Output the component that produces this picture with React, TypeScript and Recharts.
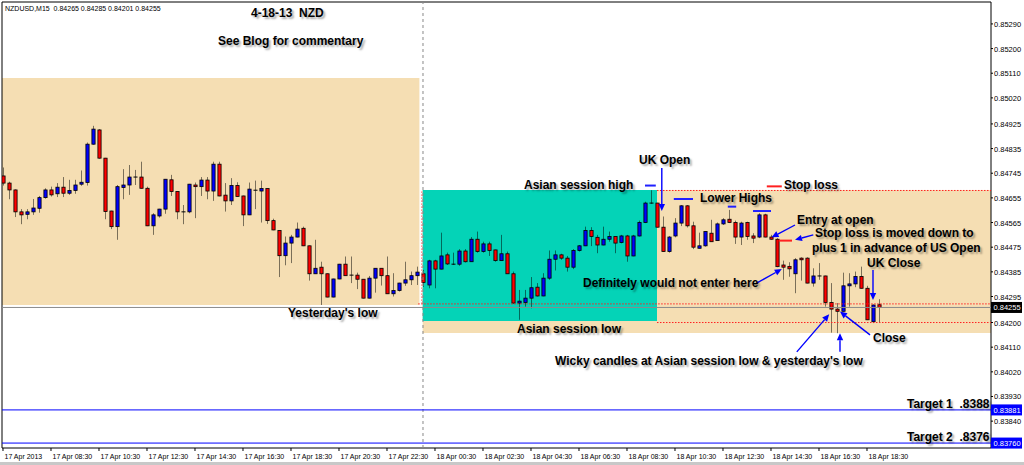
import React from 'react'
import { ComposedChart, Bar, XAxis, YAxis, ReferenceArea, ReferenceLine } from 'recharts'

// NZDUSD M15, 17 Apr 06:30 -> 18 Apr 19:00, one entry per bar
const opens = [
  0.84735, 0.84709, 0.84684, 0.84604, 0.84595, 0.84604, 0.84617, 0.84656, 0.84684, 0.8467,
  0.84694, 0.84672, 0.84682, 0.84705, 0.84711, 0.84851, 0.84903, 0.848, 0.84607, 0.8455,
  0.84693, 0.84702, 0.84731, 0.84731, 0.8469, 0.84553, 0.84589, 0.84614, 0.84721, 0.84678,
  0.84604, 0.84604, 0.84702, 0.84696, 0.8472, 0.8468, 0.84778, 0.84665, 0.84644, 0.847,
  0.84662, 0.84593, 0.84683, 0.8468, 0.84689, 0.84572, 0.84536, 0.84444, 0.8449, 0.84512,
  0.84544, 0.8448, 0.84378, 0.84402, 0.84378, 0.84293, 0.84359, 0.84413, 0.84373, 0.84373,
  0.84358, 0.84289, 0.84362, 0.84398, 0.84371, 0.84305, 0.84317, 0.84344, 0.84356, 0.84371,
  0.84378, 0.84337, 0.84425, 0.84395, 0.84447, 0.84413, 0.84413, 0.84461, 0.84422, 0.84504,
  0.84459, 0.84487, 0.84465, 0.84426, 0.84451, 0.84378, 0.84271, 0.84273, 0.84289, 0.84329,
  0.84297, 0.84362, 0.84431, 0.84447, 0.84435, 0.84402, 0.84463, 0.8448, 0.84536, 0.84511,
  0.84483, 0.84504, 0.84514, 0.84492, 0.84516, 0.84443, 0.84516, 0.84565, 0.84636, 0.84636,
  0.84548, 0.84459, 0.84516, 0.84563, 0.84626, 0.84553, 0.84471, 0.8448, 0.84526, 0.84499,
  0.8456, 0.84577, 0.84565, 0.84512, 0.84565, 0.84516, 0.84512, 0.84593, 0.84512, 0.84504,
  0.8441, 0.84405, 0.84378, 0.84435, 0.84435, 0.84344, 0.8437, 0.8437, 0.84273, 0.84249,
  0.84241, 0.84334, 0.84341, 0.84368, 0.84325, 0.84203, 0.84265,
]
const highs = [
  0.84766, 0.84714, 0.84686, 0.84614, 0.84614, 0.84651, 0.84662, 0.8469, 0.84696, 0.84709,
  0.84731, 0.84721, 0.84721, 0.84755, 0.84857, 0.84918, 0.84906, 0.84801, 0.84608, 0.84702,
  0.8476, 0.84775, 0.84757, 0.84787, 0.84696, 0.84599, 0.84615, 0.84724, 0.84739, 0.84679,
  0.84629, 0.84706, 0.84711, 0.84731, 0.84731, 0.84787, 0.84787, 0.84709, 0.84727, 0.84712,
  0.84663, 0.84711, 0.84718, 0.84718, 0.8469, 0.84579, 0.84537, 0.84514, 0.8452, 0.84565,
  0.8455, 0.84481, 0.84502, 0.84422, 0.84379, 0.8436, 0.84414, 0.84441, 0.84441, 0.84382,
  0.84359, 0.8437, 0.84399, 0.84399, 0.84441, 0.8438, 0.84345, 0.84422, 0.84386, 0.84404,
  0.84392, 0.84429, 0.84429, 0.84528, 0.84455, 0.84455, 0.84468, 0.84468, 0.84512, 0.84532,
  0.84495, 0.84495, 0.84466, 0.8452, 0.84459, 0.84386, 0.84319, 0.84319, 0.84366, 0.84344,
  0.8438, 0.84463, 0.84463, 0.84451, 0.84443, 0.84468, 0.84483, 0.8455, 0.84548, 0.8452,
  0.8455, 0.84532, 0.84515, 0.8452, 0.8452, 0.8452, 0.84572, 0.84641, 0.84683, 0.84637,
  0.84587, 0.84516, 0.84581, 0.84629, 0.84629, 0.84568, 0.84528, 0.84534, 0.84575, 0.84565,
  0.84581, 0.84611, 0.84572, 0.84568, 0.84568, 0.84526, 0.84599, 0.84597, 0.8452, 0.84508,
  0.84426, 0.8442, 0.84435, 0.84438, 0.84438, 0.84398, 0.84417, 0.84371, 0.84344, 0.84271,
  0.84382, 0.8438, 0.84386, 0.84404, 0.84334, 0.84265, 0.84285,
]
const lows = [
  0.847, 0.8465, 0.84585, 0.84559, 0.84577, 0.84593, 0.84601, 0.84652, 0.8466, 0.84658,
  0.84658, 0.84666, 0.8467, 0.84699, 0.847, 0.84849, 0.84798, 0.84577, 0.84541, 0.84502,
  0.8465, 0.84666, 0.84702, 0.84689, 0.84552, 0.8452, 0.84583, 0.84597, 0.84662, 0.84577,
  0.84559, 0.84599, 0.84581, 0.84662, 0.8465, 0.84644, 0.84661, 0.84605, 0.84629, 0.84659,
  0.84552, 0.84592, 0.84614, 0.84565, 0.8456, 0.84537, 0.84366, 0.84409, 0.84417, 0.84511,
  0.84479, 0.84353, 0.84377, 0.84264, 0.84292, 0.84292, 0.84358, 0.8437, 0.84344, 0.84322,
  0.84288, 0.84288, 0.84309, 0.84335, 0.84304, 0.84295, 0.84313, 0.84334, 0.84337, 0.84337,
  0.8433, 0.84325, 0.84325, 0.84394, 0.8441, 0.8441, 0.84407, 0.84419, 0.84421, 0.84455,
  0.84455, 0.84443, 0.84422, 0.84425, 0.84377, 0.8427, 0.8421, 0.84258, 0.84252, 0.84295,
  0.84296, 0.84356, 0.8439, 0.84429, 0.84386, 0.84395, 0.84459, 0.84479, 0.84479, 0.84453,
  0.84482, 0.84495, 0.84453, 0.84489, 0.84422, 0.84442, 0.84514, 0.84563, 0.84633, 0.84547,
  0.84458, 0.84455, 0.84511, 0.84552, 0.84547, 0.84468, 0.8447, 0.84477, 0.84494, 0.84498,
  0.84556, 0.84563, 0.84487, 0.84483, 0.84502, 0.8449, 0.84508, 0.84511, 0.84502, 0.84402,
  0.84356, 0.84367, 0.84307, 0.84353, 0.84343, 0.84331, 0.84356, 0.84258, 0.84163, 0.84161,
  0.8424, 0.84258, 0.84329, 0.84324, 0.84209, 0.84198, 0.84201,
]
const closes = [
  0.84709, 0.84684, 0.84604, 0.84593, 0.84604, 0.84618, 0.84656, 0.84684, 0.84666, 0.84694,
  0.84672, 0.84682, 0.84702, 0.84712, 0.84851, 0.84906, 0.848, 0.84605, 0.8455, 0.84696,
  0.84702, 0.84731, 0.84732, 0.8469, 0.84553, 0.84593, 0.84614, 0.84723, 0.84678, 0.84604,
  0.84604, 0.84705, 0.84696, 0.8472, 0.8468, 0.84778, 0.84662, 0.84644, 0.847, 0.8466,
  0.84593, 0.84687, 0.84684, 0.84689, 0.84572, 0.84538, 0.84444, 0.8449, 0.84512, 0.84541,
  0.8448, 0.84378, 0.84398, 0.84378, 0.84293, 0.84359, 0.84413, 0.84371, 0.84372, 0.84358,
  0.84289, 0.84362, 0.84398, 0.84371, 0.84305, 0.84317, 0.84344, 0.84356, 0.84371, 0.84384,
  0.84346, 0.84425, 0.84395, 0.84443, 0.84414, 0.84413, 0.84461, 0.84422, 0.84504, 0.84459,
  0.84487, 0.84463, 0.84426, 0.84451, 0.84378, 0.84271, 0.84278, 0.84289, 0.84327, 0.84297,
  0.84362, 0.84431, 0.84447, 0.84435, 0.84402, 0.84463, 0.8448, 0.84536, 0.84514, 0.84483,
  0.84504, 0.84514, 0.8449, 0.84516, 0.84443, 0.84516, 0.84565, 0.84636, 0.84635, 0.84548,
  0.84459, 0.84512, 0.84563, 0.84626, 0.84553, 0.84475, 0.8448, 0.84532, 0.84495, 0.8456,
  0.84575, 0.84565, 0.84512, 0.84563, 0.84514, 0.84508, 0.84593, 0.84512, 0.84504, 0.84404,
  0.84402, 0.84396, 0.84429, 0.84429, 0.84344, 0.8437, 0.84371, 0.84273, 0.84249, 0.84241,
  0.84334, 0.84341, 0.84368, 0.84325, 0.8421, 0.84264, 0.84255,
]

const dateTicks = [0, 8, 16, 24, 32, 40, 48, 56, 64, 72, 80, 88, 96, 104, 112, 120, 128, 136, 144]
const dateLabels = [
  '17 Apr 2013', '17 Apr 08:30', '17 Apr 10:30', '17 Apr 12:30', '17 Apr 14:30', '17 Apr 16:30',
  '17 Apr 18:30', '17 Apr 20:30', '17 Apr 22:30', '18 Apr 00:30', '18 Apr 02:30', '18 Apr 04:30',
  '18 Apr 06:30', '18 Apr 08:30', '18 Apr 10:30', '18 Apr 12:30', '18 Apr 14:30', '18 Apr 16:30',
  '18 Apr 18:30',
]
const priceTicks = [
  0.8529, 0.852, 0.8511, 0.8502, 0.84925, 0.84835, 0.84745, 0.84655, 0.84565, 0.84475,
  0.84385, 0.84295, 0.84255, 0.842, 0.8411, 0.8402, 0.8393, 0.83881, 0.8384, 0.8376,
]

// levels
const bid = 0.84255
const target1 = 0.83881
const target2 = 0.8376
const prevBox = [0.84264, 0.85093]
const asianBox = [0.84206, 0.84684]
const ukBox = [0.84162, 0.84684]
const stopLoss = 0.84682
const yesterdayLow = 0.84268
const asianLowLine = 0.842
const dayStart = 70

// short marks [i1, p1, i2, p2]
const blueMarks = [
  [107, 0.847, 108.8, 0.847],
  [111.8, 0.84651, 115, 0.84651],
  [120.8, 0.84623, 122.2, 0.84623],
  [125, 0.84607, 128, 0.84607],
]
const redMarks = [
  [127.3, 0.84697, 129.8, 0.84697],
  [129.3, 0.84499, 131.5, 0.84499],
]
const arrows = [
  [109.8, 0.84764, 109.8, 0.84607],
  [132, 0.84556, 128.1, 0.84511],
  [135.05, 0.8452, 132, 0.84502],
  [125.6, 0.84344, 129.8, 0.84395],
  [145, 0.84392, 145, 0.84282],
  [144.5, 0.84155, 139.5, 0.8424],
  [132.3, 0.84093, 137.7, 0.8423],
  [139.5, 0.84093, 139.5, 0.84161],
]

const X_MIN = -1 / 6
const X_MAX = 164.667
const Y_MIN = 0.83742
const Y_MAX = 0.8537

const data = opens.map((open, i) => ({
  idx: i,
  open,
  high: highs[i],
  low: lows[i],
  close: closes[i],
  range: [lows[i], highs[i]],
}))

function Candle(props: any) {
  const { x, y, width, height, payload } = props
  if (!payload) return null
  const { open, close, high, low } = payload
  const top = Math.min(y, y + height)
  const span = Math.abs(height)
  const py = (v: number) => top + (span * (high - v)) / (high - low || 1)
  const cx = Math.round(x + width / 2) + 0.5
  const yo = py(open)
  const yc = py(close)
  const bodyH = Math.abs(yc - yo)
  return (
    <g>
      <line x1={cx} x2={cx} y1={top} y2={top + span} stroke="#000" strokeOpacity={0.5} />
      {bodyH < 1 ? (
        <line x1={cx - 2} x2={cx + 2} y1={yo} y2={yo} stroke="#000" />
      ) : (
        <rect x={cx - 1.6} y={Math.min(yo, yc)} width={3.2} height={bodyH}
          fill={close > open ? '#0000ff' : '#ff0000'} stroke="#000" strokeWidth={0.8} />
      )}
    </g>
  )
}

function ArrowShape(props: any) {
  const { x1, y1, x2, y2 } = props
  const a = Math.atan2(y2 - y1, x2 - x1)
  const bx = x2 - 7 * Math.cos(a)
  const by = y2 - 7 * Math.sin(a)
  const s = Math.sin(a) * 3.2
  const c = Math.cos(a) * 3.2
  return (
    <g>
      <line x1={x1} y1={y1} x2={bx} y2={by} stroke="#0000ff" strokeWidth={1.4} />
      <polygon points={`${x2},${y2} ${bx + s},${by - c} ${bx - s},${by + c}`} fill="#0000ff" />
    </g>
  )
}

function DateTick(props: any) {
  const { x, y, payload } = props
  const k = dateTicks.indexOf(payload.value)
  return (
    <g>
      <line x1={x} x2={x} y1={y} y2={y + 3} stroke="#000" />
      <text x={x + 1.5} y={y + 10.5} fontSize={7} fontFamily="Liberation Sans, Arial" fill="#000">
        {dateLabels[k]}
      </text>
    </g>
  )
}

function PriceTick(props: any) {
  const { x, y, payload } = props
  const v = payload.value
  const label = v.toFixed(5)
  let box: string | null = null
  if (v === bid) box = '#000'
  if (v === target1 || v === target2) box = '#0000ff'
  if (box) {
    return (
      <g>
        <rect x={x} y={y - 5.5} width={31} height={11} fill={box} />
        <text x={x + 2.5} y={y + 3} fontSize={7.5} fontFamily="Liberation Sans, Arial" fill="#fff">{label}</text>
      </g>
    )
  }
  return (
    <g>
      <line x1={x} x2={x + 2} y1={y} y2={y} stroke="#000" />
      <text x={x + 3} y={y + 3} fontSize={7.5} fontFamily="Liberation Sans, Arial" fill="#000">{label}</text>
    </g>
  )
}

const noteStyle: React.CSSProperties = {
  position: 'absolute',
  fontFamily: 'Liberation Sans, Arial, sans-serif',
  fontWeight: 'bold',
  fontSize: 12,
  lineHeight: 1,
  whiteSpace: 'pre',
  color: '#000',
  textShadow: '2px 2px 2px rgba(0,0,0,0.35)',
  pointerEvents: 'none',
}

const notes: [string, number, number][] = [
  ['4-18-13  NZD', 251, 13.5],
  ['See Blog for commentary', 218, 41.5],
  ['Asian session high', 524, 185],
  ['UK Open', 639, 160],
  ['Lower Highs', 700, 198],
  ['Stop loss', 784, 185],
  ['Entry at open', 797, 220],
  ['Stop loss is moved down to', 815, 233],
  ['plus 1 in advance of US Open', 812, 248],
  ['Definitely would not enter here', 583, 283],
  ['UK Close', 867, 263],
  ["Yesterday's low", 288, 313],
  ['Asian session low', 517, 329],
  ['Close', 873, 338],
  ["Wicky candles at Asian session low & yesterday's low", 555, 361],
  ['Target 1  .8388', 907, 404],
  ['Target 2  .8376', 907, 437],
]

export default function App() {
  return (
    <div style={{ position: 'relative', width: 1024, height: 465, background: '#fff', overflow: 'hidden' }}>
      <style>{'body{margin:0}'}</style>
      <ComposedChart width={1024} height={465} data={data} margin={{ top: 2, right: 0, bottom: 0, left: 2 }}>
        <XAxis dataKey="idx" type="number" domain={[X_MIN, X_MAX]} allowDataOverflow ticks={dateTicks}
          interval={0} tick={<DateTick />} tickSize={0} tickMargin={0} axisLine={false} tickLine={false} height={17} />
        <YAxis type="number" orientation="right" domain={[Y_MIN, Y_MAX]} allowDataOverflow ticks={priceTicks}
          interval={0} tick={<PriceTick />} tickSize={0} tickMargin={0} axisLine={false} tickLine={false} width={33} />

        <ReferenceArea x1={X_MIN} x2={69.4} y1={prevBox[0]} y2={prevBox[1]} fill="#f5deb3" fillOpacity={1} stroke="none" />
        <ReferenceArea x1={69.95} x2={X_MAX} y1={ukBox[0]} y2={ukBox[1]} fill="#f5deb3" fillOpacity={1} stroke="none" />
        <ReferenceArea x1={69.95} x2={109} y1={asianBox[0]} y2={asianBox[1]} fill="#04d3b7" fillOpacity={1} stroke="none" />

        <ReferenceLine x={dayStart} stroke="#888" strokeDasharray="3 3" />
        <ReferenceLine y={target1} stroke="#0000ff" />
        <ReferenceLine y={target2} stroke="#0000ff" />
        <ReferenceLine y={bid} stroke="#8a8a8a" />
        <ReferenceLine segment={[{ x: 69.2, y: yesterdayLow }, { x: X_MAX, y: yesterdayLow }]} stroke="#ff2020" strokeDasharray="1.5 1.5" />
        <ReferenceLine segment={[{ x: 109, y: asianLowLine }, { x: X_MAX, y: asianLowLine }]} stroke="#ff2020" strokeDasharray="1.5 1.5" />
        <ReferenceLine segment={[{ x: 109, y: stopLoss }, { x: X_MAX, y: stopLoss }]} stroke="#ff2020" strokeDasharray="1.5 1.5" />
        <ReferenceLine segment={[{ x: 69.8, y: yesterdayLow }, { x: 69.8, y: asianBox[1] }]} stroke="#ff6060" strokeDasharray="1.5 1.5" />

        {blueMarks.map((m, k) => (
          <ReferenceLine key={'b' + k} segment={[{ x: m[0], y: m[1] }, { x: m[2], y: m[3] }]} stroke="#2020ff" strokeWidth={2} />
        ))}
        {redMarks.map((m, k) => (
          <ReferenceLine key={'r' + k} segment={[{ x: m[0], y: m[1] }, { x: m[2], y: m[3] }]} stroke="#ff2020" strokeWidth={2} />
        ))}

        <Bar dataKey="range" barSize={4} shape={<Candle />} isAnimationActive={false} />

        {arrows.map((a, k) => (
          <ReferenceLine key={'a' + k} segment={[{ x: a[0], y: a[1] }, { x: a[2], y: a[3] }]} shape={<ArrowShape />} />
        ))}

        <ReferenceArea x1={X_MIN} x2={X_MAX} y1={Y_MIN} y2={Y_MAX} fill="none" stroke="#000" />
      </ComposedChart>

      <div style={{ position: 'absolute', left: 5, top: 5, fontSize: 7, fontFamily: 'Liberation Sans, Arial', whiteSpace: 'pre' }}>
        NZDUSD,M15  0.84265 0.84285 0.84201 0.84255
      </div>
      {notes.map(([t, x, y]) => (
        <div key={t} style={{ ...noteStyle, left: x, top: y - 6.5 }}>{t}</div>
      ))}
      <div style={{ position: 'absolute', left: 0, top: 462, width: 1024, height: 3, background: '#c8c8c8' }} />
    </div>
  )
}
